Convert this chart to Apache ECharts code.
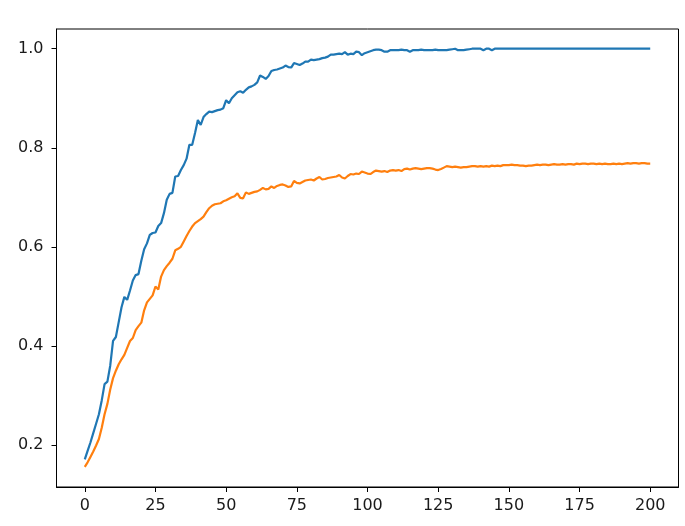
<!DOCTYPE html>
<html>
<head>
<meta charset="utf-8">
<script src="https://cdn.jsdelivr.net/npm/echarts@6/dist/echarts.min.js"></script>
<style>
html,body{margin:0;padding:0;background:#fff;}
#chart{width:685px;height:526px;}
</style>
</head>
<body>
<div id="chart"></div>
<script>
// Blue series (e.g. training accuracy), one value per epoch 0..200
const trainAcc = [
0.171,0.188,0.205,0.224,0.243,0.262,0.290,0.323,0.328,0.360,
0.410,0.418,0.448,0.478,0.499,0.493,0.512,0.532,0.543,0.545,
0.572,0.595,0.607,0.624,0.628,0.629,0.642,0.648,0.668,0.695,
0.707,0.709,0.742,0.743,0.755,0.765,0.778,0.806,0.806,0.830,
0.856,0.846,0.862,0.868,0.873,0.872,0.874,0.876,0.877,0.880,
0.896,0.890,0.900,0.906,0.912,0.914,0.911,0.917,0.922,0.924,
0.927,0.932,0.946,0.943,0.939,0.945,0.955,0.957,0.958,0.960,
0.962,0.966,0.963,0.962,0.971,0.969,0.967,0.970,0.974,0.974,
0.978,0.977,0.978,0.979,0.981,0.982,0.984,0.988,0.988,0.989,
0.990,0.989,0.993,0.988,0.990,0.989,0.994,0.993,0.987,0.991,
0.993,0.995,0.997,0.998,0.998,0.997,0.994,0.994,0.997,0.997,
0.997,0.997,0.998,0.997,0.997,0.994,0.997,0.997,0.997,0.998,
0.997,0.997,0.997,0.997,0.998,0.997,0.997,0.997,0.997,0.998,
0.999,1.000,0.997,0.997,0.997,0.998,0.999,1.000,1.000,1.000,
1.000,0.997,1.000,1.000,0.997,1.000,1.000,1.000,1.000,1.000,
1.000,1.000,1.000,1.000,1.000,1.000,1.000,1.000,1.000,1.000,
1.000,1.000,1.000,1.000,1.000,1.000,1.000,1.000,1.000,1.000,
1.000,1.000,1.000,1.000,1.000,1.000,1.000,1.000,1.000,1.000,
1.000,1.000,1.000,1.000,1.000,1.000,1.000,1.000,1.000,1.000,
1.000,1.000,1.000,1.000,1.000,1.000,1.000,1.000,1.000,1.000,
1.000
];
// Orange series (e.g. validation accuracy), one value per epoch 0..200
const valAcc = [
0.156,0.165,0.176,0.187,0.199,0.212,0.235,0.262,0.283,0.312,
0.335,0.350,0.363,0.373,0.382,0.396,0.410,0.416,0.432,0.440,
0.447,0.472,0.488,0.495,0.502,0.520,0.514,0.540,0.553,0.561,
0.568,0.576,0.593,0.596,0.600,0.611,0.622,0.632,0.641,0.648,
0.652,0.656,0.661,0.670,0.678,0.683,0.686,0.687,0.688,0.692,
0.694,0.697,0.700,0.702,0.708,0.699,0.698,0.710,0.707,0.709,
0.711,0.712,0.715,0.719,0.716,0.717,0.722,0.719,0.723,0.725,
0.726,0.724,0.721,0.722,0.733,0.729,0.728,0.731,0.734,0.735,
0.736,0.734,0.738,0.741,0.736,0.737,0.739,0.740,0.741,0.742,
0.745,0.740,0.738,0.743,0.747,0.746,0.748,0.747,0.752,0.750,
0.748,0.747,0.751,0.754,0.753,0.752,0.753,0.751,0.754,0.755,
0.754,0.755,0.753,0.757,0.758,0.756,0.758,0.759,0.758,0.757,
0.758,0.759,0.759,0.758,0.756,0.755,0.757,0.760,0.763,0.762,
0.761,0.762,0.761,0.760,0.761,0.761,0.762,0.763,0.763,0.762,
0.763,0.762,0.763,0.762,0.764,0.763,0.764,0.763,0.765,0.765,
0.765,0.766,0.765,0.765,0.764,0.764,0.763,0.764,0.764,0.765,
0.766,0.765,0.766,0.766,0.765,0.766,0.767,0.766,0.766,0.767,
0.766,0.767,0.767,0.766,0.768,0.767,0.768,0.768,0.767,0.768,
0.768,0.767,0.768,0.767,0.768,0.767,0.767,0.768,0.767,0.768,
0.767,0.768,0.769,0.768,0.769,0.769,0.768,0.769,0.769,0.768,
0.768
];
const xTicks = [0, 25, 50, 75, 100, 125, 150, 175, 200];
const yTicks = [0.2, 0.4, 0.6, 0.8, 1.0];

const FONT = 'DejaVu Sans';
const chart = echarts.init(document.getElementById('chart'), null, {renderer: 'canvas'});
const axisCommon = {
  splitLine: {show: false},
  axisLine: {show: true, onZero: false, lineStyle: {color: '#000', width: 1}},
  axisTick: {show: true, inside: false, length: 5, lineStyle: {color: '#000', width: 1}},
};
chart.setOption({
  animation: false,
  backgroundColor: '#fff',
  grid: {left: 56.5, right: 6.5, top: 29, bottom: 39, show: true, borderColor: '#000', borderWidth: 1, backgroundColor: 'transparent'},
  xAxis: Object.assign({}, axisCommon, {
    type: 'value', min: -10, max: 210,
    axisTick: Object.assign({}, axisCommon.axisTick, {customValues: xTicks}),
    axisLabel: {customValues: xTicks, margin: 11, color: '#1a1a1a', fontFamily: FONT, fontSize: 16,
      formatter: v => String(v)}
  }),
  yAxis: Object.assign({}, axisCommon, {
    type: 'value', min: 0.1152, max: 1.0398,
    axisTick: Object.assign({}, axisCommon.axisTick, {customValues: yTicks}),
    axisLabel: {customValues: yTicks, margin: 13, color: '#1a1a1a', fontFamily: FONT, fontSize: 16,
      formatter: v => v.toFixed(1)}
  }),
  series: [
    {type: 'line', data: trainAcc.map((v, i) => [i, v]), showSymbol: false, symbol: 'none',
     lineStyle: {color: '#1f77b4', width: 2.2}, itemStyle: {color: '#1f77b4'}, z: 2},
    {type: 'line', data: valAcc.map((v, i) => [i, v]), showSymbol: false, symbol: 'none',
     lineStyle: {color: '#ff7f0e', width: 2.2}, itemStyle: {color: '#ff7f0e'}, z: 3}
  ]
});
</script>
</body>
</html>
